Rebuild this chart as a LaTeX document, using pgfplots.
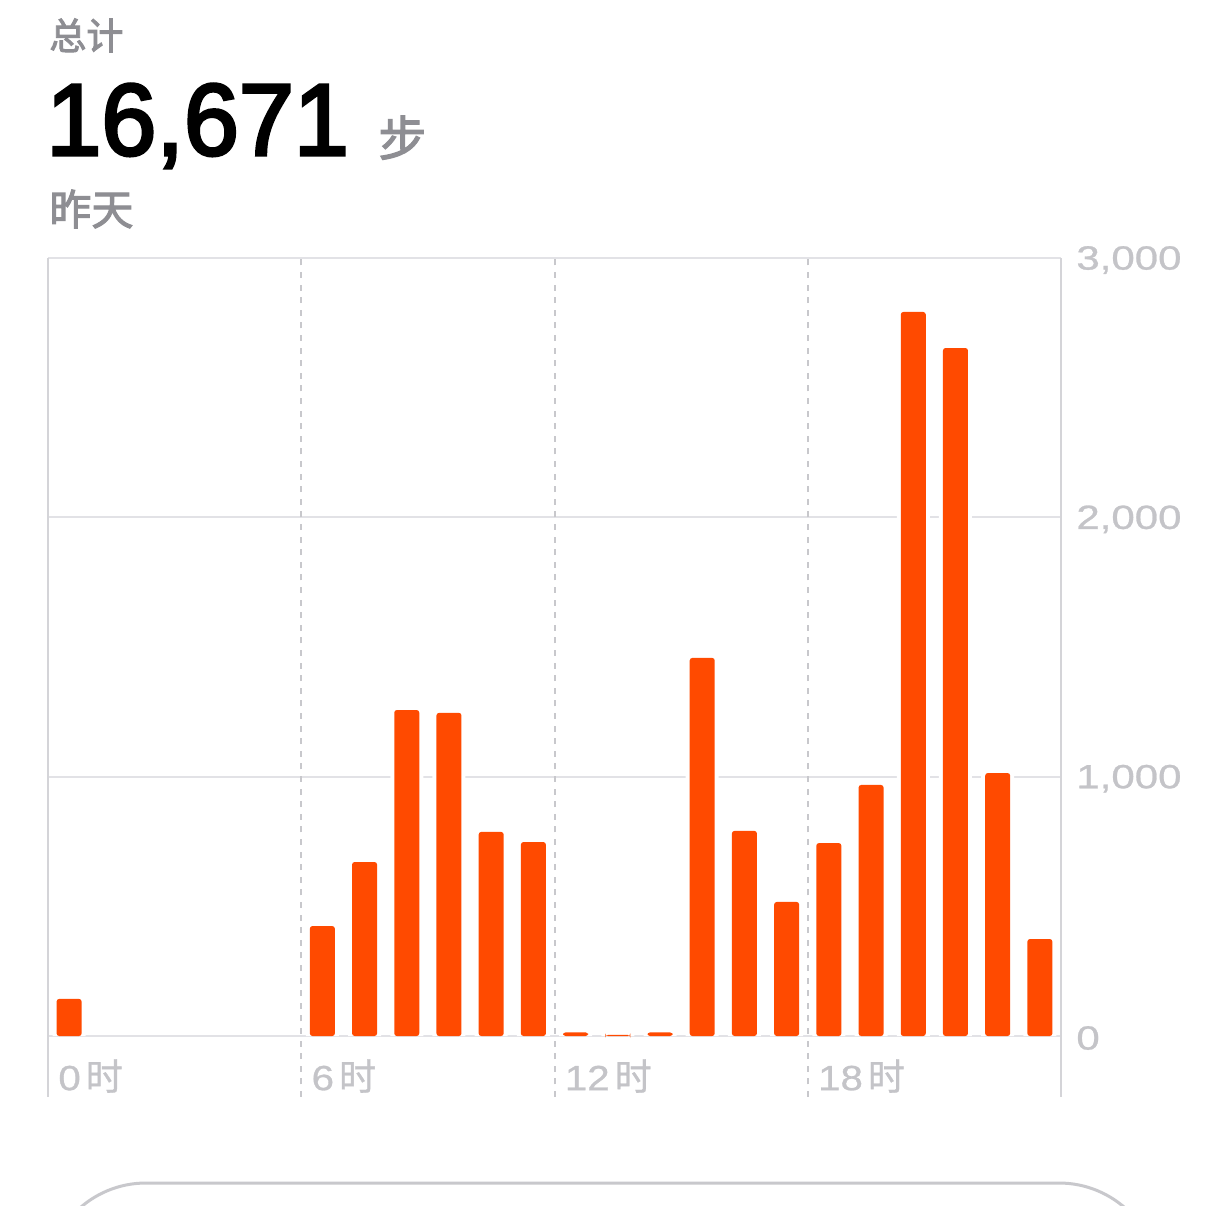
\documentclass[border=0pt]{standalone}
\usepackage{fontspec}
\setmainfont{Noto Sans CJK SC}
\newfontfamily\hdrfont[FakeBold=2.5]{Noto Sans CJK SC}
\newfontfamily\lblcjk[FakeBold=0.8]{Noto Sans CJK SC}
\newfontfamily\numfont[FakeStretch=1.25,FakeBold=0.8]{Liberation Sans}
\newfontfamily\xnumfont[FakeStretch=1.15,FakeBold=0.8]{Liberation Sans}
\newfontfamily\bigfont[FakeBold=3,FakeStretch=0.97]{Liberation Sans}
\usepackage{pgfplots}
\usepackage{pgfplotstable}
\pgfplotsset{compat=1.18}
\definecolor{barorange}{RGB}{255,74,0}
\definecolor{hdrgray}{RGB}{142,142,147}
\definecolor{lblgray}{RGB}{196,196,200}
\definecolor{gridgray}{RGB}{226,226,230}
\definecolor{bordergray}{RGB}{212,212,216}
\definecolor{dashgray}{RGB}{200,200,204}
\definecolor{cardgray}{RGB}{200,200,204}

\pgfplotstableread{
h v
0 143
6 424
7 671
8 1257
9 1246
10 787
11 748
12 14
13 4
14 14
15 1458
16 791
17 517
18 744
19 968
20 2792
21 2653
22 1014
23 374
}\steps

\newcommand{\xl}[1]{{\xnumfont #1}\hspace{2.5pt}{\fontsize{18.5pt}{20pt}\lblcjk 时}}

\begin{document}
\begin{tikzpicture}
\useasboundingbox (0,0) rectangle (603pt,-603pt);
\clip (0,0) rectangle (603pt,-603pt);
\fill[white] (0,0) rectangle (603pt,-603pt);
\node[anchor=base west, inner sep=0pt, text=hdrgray, font=\fontsize{18.5pt}{20pt}\hdrfont] at (24.5pt,-24.75pt) {总计};
\node[anchor=base west, inner sep=0pt, text=black, font=\fontsize{51pt}{55pt}\bigfont] at (23pt,-77.5pt) {16,671};
\node[anchor=base west, inner sep=0pt, text=hdrgray, font=\fontsize{24pt}{26pt}\hdrfont] at (189pt,-78pt) {步};
\node[anchor=base west, inner sep=0pt, text=hdrgray, font=\fontsize{21pt}{23pt}\hdrfont] at (24.5pt,-112.5pt) {昨天};
\draw[cardgray, line width=1.5pt, rounded corners=50pt] (23pt,-720pt) -- (23pt,-591.5pt) -- (579.5pt,-591.5pt) -- (579.5pt,-720pt);

\begin{axis}[
  at={(24pt,-518pt)}, anchor=south west,
  width=506.5pt, height=389pt, scale only axis,
  xmin=-0.5, xmax=23.5, ymin=0, ymax=3000,
  axis line style={draw=none},
  major tick length=0pt,
  xtick={-0.5,5.5,11.5,17.5},
  xticklabels={\xl{0},\xl{6},\xl{12},\xl{18}},
  ytick={0,1000,2000,3000},
  yticklabels={0,{1,000},{2,000},{3,000}},
  yticklabel pos=right,
  ymajorgrids,
  grid style={gridgray, line width=1pt},
  clip=false,
  xticklabel style={anchor=west, inner sep=0pt, xshift=5pt, yshift=-20pt, text=lblgray, font=\fontsize{17.5pt}{20pt}\selectfont},
  yticklabel style={anchor=west, inner sep=0pt, xshift=7.5pt, yshift=-1pt, text=lblgray, font=\fontsize{16.8pt}{20pt}\numfont},
]
\draw[bordergray, line width=1pt] (axis cs:-0.5,-235) -- (axis cs:-0.5,3000);
\draw[bordergray, line width=1pt] (axis cs:23.5,-235) -- (axis cs:23.5,3000);
\draw[dashgray, line width=1pt, dash pattern=on 3pt off 3.3pt] (axis cs:5.5,-235) -- (axis cs:5.5,3000);
\draw[dashgray, line width=1pt, dash pattern=on 3pt off 3.3pt] (axis cs:11.5,-235) -- (axis cs:11.5,3000);
\draw[dashgray, line width=1pt, dash pattern=on 3pt off 3.3pt] (axis cs:17.5,-235) -- (axis cs:17.5,3000);
\addplot[ybar, bar width=16.5pt, bar shift=0pt, fill=white, draw=none] table[x=h, y=v] {\steps};
\addplot[ybar, bar width=12.5pt, bar shift=0pt, fill=barorange, draw=none, rounded corners=1.3pt] table[x=h, y=v] {\steps};
\end{axis}
\end{tikzpicture}
\end{document}
